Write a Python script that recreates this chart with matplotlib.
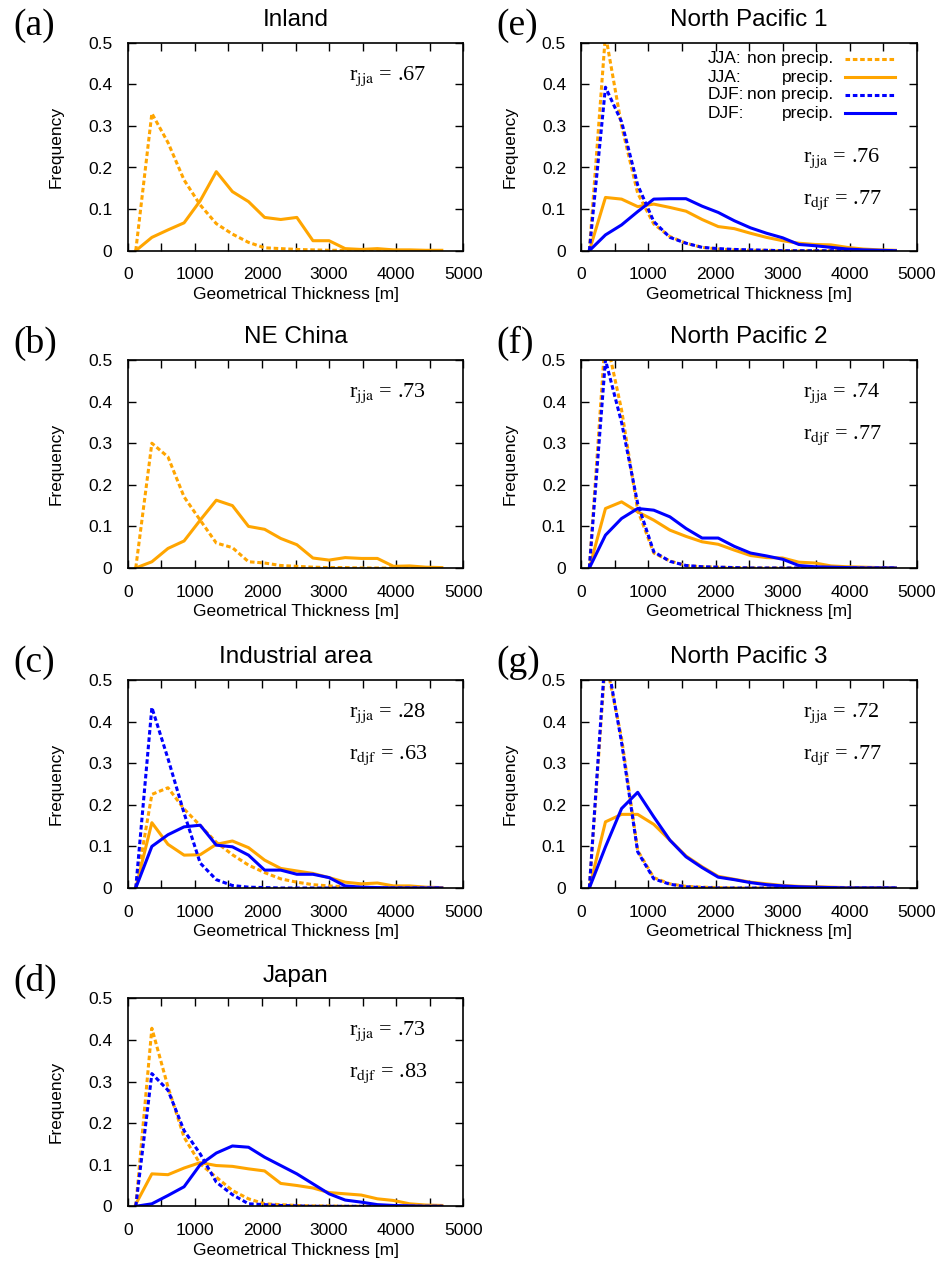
import matplotlib
matplotlib.use("Agg")
from matplotlib import pyplot as plt
from matplotlib.ticker import MultipleLocator

plt.rcParams['font.family'] = ['Liberation Sans', 'DejaVu Sans']
plt.rcParams['mathtext.fontset'] = 'stix'

# bin centres of geometrical thickness [m]
thickness = [120, 360, 600, 840, 1080, 1320, 1560, 1800, 2040, 2280,
             2520, 2760, 3000, 3240, 3480, 3720, 3960, 4200, 4440, 4680]

inland_jja_np = [0, 0.33, 0.26, 0.17, 0.11, 0.065, 0.04, 0.02, 0.007, 0.005,
                 0.003, 0.002, 0.001, 0.001, 0, 0, 0, 0, 0, 0]
inland_jja_p = [0, 0.032, 0.05, 0.067, 0.12, 0.19, 0.142, 0.118, 0.08, 0.075,
                0.08, 0.024, 0.024, 0.005, 0.003, 0.005, 0.002, 0.002, 0.001, 0.001]

china_jja_np = [0, 0.30, 0.267, 0.171, 0.115, 0.06, 0.049, 0.015, 0.012, 0.006,
                0.004, 0.002, 0.001, 0.001, 0, 0, 0, 0, 0, 0]
china_jja_p = [0, 0.015, 0.047, 0.065, 0.115, 0.163, 0.15, 0.10, 0.093, 0.071,
               0.056, 0.024, 0.019, 0.025, 0.023, 0.023, 0.004, 0.005, 0.002, 0.001]

indus_jja_np = [0, 0.225, 0.241, 0.19, 0.15, 0.11, 0.08, 0.055, 0.037, 0.022,
                0.014, 0.008, 0.005, 0.003, 0.002, 0.001, 0.001, 0, 0, 0]
indus_jja_p = [0, 0.157, 0.105, 0.079, 0.08, 0.105, 0.113, 0.097, 0.067, 0.047,
               0.041, 0.035, 0.025, 0.014, 0.01, 0.012, 0.005, 0.005, 0.002, 0.001]
indus_djf_np = [0, 0.434, 0.311, 0.18, 0.06, 0.02, 0.006, 0.002, 0.001, 0,
                0, 0, 0, 0, 0, 0, 0, 0, 0, 0]
indus_djf_p = [0, 0.10, 0.128, 0.147, 0.151, 0.103, 0.099, 0.079, 0.043, 0.043,
               0.033, 0.033, 0.025, 0.005, 0.002, 0.001, 0, 0, 0, 0]

japan_jja_np = [0, 0.428, 0.287, 0.166, 0.102, 0.07, 0.038, 0.018, 0.006, 0.004,
                0.002, 0.001, 0.001, 0, 0, 0, 0, 0, 0, 0]
japan_jja_p = [0.005, 0.078, 0.076, 0.092, 0.105, 0.098, 0.096, 0.09, 0.085, 0.055,
               0.05, 0.044, 0.033, 0.03, 0.027, 0.018, 0.014, 0.006, 0.003, 0.002]
japan_djf_np = [0, 0.319, 0.279, 0.182, 0.126, 0.058, 0.028, 0.006, 0.004, 0.002,
                0.001, 0, 0, 0, 0, 0, 0, 0, 0, 0]
japan_djf_p = [0, 0.006, 0.026, 0.047, 0.1, 0.128, 0.145, 0.142, 0.118, 0.098,
               0.078, 0.054, 0.03, 0.015, 0.01, 0.004, 0.002, 0.001, 0, 0]

np1_jja_np = [0, 0.52, 0.30, 0.138, 0.064, 0.034, 0.018, 0.008, 0.004, 0.002,
              0.001, 0.001, 0, 0, 0, 0, 0, 0, 0, 0]
np1_jja_p = [0, 0.128, 0.124, 0.106, 0.112, 0.104, 0.095, 0.075, 0.058, 0.053,
             0.042, 0.032, 0.024, 0.018, 0.015, 0.014, 0.008, 0.004, 0.002, 0.001]
np1_djf_np = [0, 0.393, 0.31, 0.158, 0.07, 0.032, 0.018, 0.008, 0.005, 0.003,
              0.002, 0.001, 0, 0, 0, 0, 0, 0, 0, 0]
np1_djf_p = [0, 0.038, 0.062, 0.094, 0.124, 0.125, 0.125, 0.107, 0.092, 0.072,
             0.055, 0.042, 0.031, 0.015, 0.012, 0.008, 0.004, 0.002, 0.001, 0]

np2_jja_np = [0, 0.56, 0.38, 0.139, 0.036, 0.017, 0.006, 0.003, 0.002, 0.001,
              0, 0, 0, 0, 0, 0, 0, 0, 0, 0]
np2_jja_p = [0, 0.143, 0.159, 0.135, 0.115, 0.091, 0.076, 0.063, 0.057, 0.043,
             0.03, 0.025, 0.024, 0.014, 0.012, 0.005, 0.003, 0.002, 0.001, 0]
np2_djf_np = [0, 0.50, 0.35, 0.155, 0.039, 0.016, 0.006, 0.003, 0.002, 0.001,
              0, 0, 0, 0, 0, 0, 0, 0, 0, 0]
np2_djf_p = [0, 0.079, 0.119, 0.143, 0.139, 0.123, 0.095, 0.072, 0.072, 0.052,
             0.036, 0.029, 0.021, 0.006, 0.003, 0.002, 0.001, 0, 0, 0]

np3_jja_np = [0, 0.55, 0.36, 0.09, 0.025, 0.01, 0.004, 0.002, 0.001, 0,
              0, 0, 0, 0, 0, 0, 0, 0, 0, 0]
np3_jja_p = [0, 0.159, 0.177, 0.177, 0.153, 0.115, 0.077, 0.051, 0.028, 0.021,
             0.014, 0.01, 0.006, 0.004, 0.003, 0.002, 0.001, 0, 0, 0]
np3_djf_np = [0, 0.57, 0.35, 0.087, 0.022, 0.009, 0.003, 0.001, 0, 0,
              0, 0, 0, 0, 0, 0, 0, 0, 0, 0]
np3_djf_p = [0, 0.099, 0.191, 0.23, 0.171, 0.115, 0.075, 0.049, 0.026, 0.02,
             0.013, 0.008, 0.005, 0.003, 0.002, 0.001, 0, 0, 0, 0]

titles = ['Inland', 'NE China', 'Industrial area', 'Japan',
          'North Pacific 1', 'North Pacific 2', 'North Pacific 3']
letters = ['(a)', '(b)', '(c)', '(d)', '(e)', '(f)', '(g)']
r_jja = ['.67', '.73', '.28', '.73', '.76', '.74', '.72']
r_djf = [None, None, '.63', '.83', '.77', '.77', '.77']

series = [
    (inland_jja_np, inland_jja_p, None, None),
    (china_jja_np, china_jja_p, None, None),
    (indus_jja_np, indus_jja_p, indus_djf_np, indus_djf_p),
    (japan_jja_np, japan_jja_p, japan_djf_np, japan_djf_p),
    (np1_jja_np, np1_jja_p, np1_djf_np, np1_djf_p),
    (np2_jja_np, np2_jja_p, np2_djf_np, np2_djf_p),
    (np3_jja_np, np3_jja_p, np3_djf_np, np3_djf_p),
]

ORANGE = '#ffa500'
BLUE = '#0000ff'
LW = 2.2
DASH = (0, (1.5, 0.9))

W, H = 942, 1263
fig = plt.figure(figsize=(W / 100, H / 100), dpi=100)

# panel placement in pixels: (left, top)
col_left = [127.7, 581.3]
row_top = [42.7, 360, 680, 998.3]
ax_w, ax_h = 335.6, 208
label_x = [13, 496]

for i in range(7):
    col, row = (0, i) if i < 4 else (1, i - 4)
    left, top = col_left[col], row_top[row]
    ax = fig.add_axes([left / W, 1 - (top + ax_h) / H, ax_w / W, ax_h / H])

    jja_np, jja_p, djf_np, djf_p = series[i]
    ax.plot(thickness, jja_np, color=ORANGE, lw=LW, linestyle=DASH)
    ax.plot(thickness, jja_p, color=ORANGE, lw=LW)
    if djf_np is not None:
        ax.plot(thickness, djf_np, color=BLUE, lw=LW, linestyle=DASH)
        ax.plot(thickness, djf_p, color=BLUE, lw=LW)

    ax.set_xlim(0, 5000)
    ax.set_ylim(0, 0.5)
    ax.xaxis.set_major_locator(MultipleLocator(1000))
    ax.xaxis.set_minor_locator(MultipleLocator(500))
    ax.set_yticks([0, 0.1, 0.2, 0.3, 0.4, 0.5])
    ax.set_yticklabels(['0', '0.1', '0.2', '0.3', '0.4', '0.5'])
    ax.tick_params(which='both', direction='in', top=True, right=True,
                   length=6, width=1, labelsize=12.5)
    ax.tick_params(axis='x', pad=12)
    ax.tick_params(axis='y', pad=11)
    for s in ax.spines.values():
        s.set_linewidth(1.2)

    ax.set_title(titles[i], fontsize=17.5, pad=12)
    ax.set_xlabel('Geometrical Thickness [m]', fontsize=12.5)
    ax.set_ylabel('Frequency', fontsize=12.5)
    ax.xaxis.set_label_coords(0.5, -0.175)
    ax.yaxis.set_label_coords(-0.19, 0.5)

    fig.text(label_x[col] / W, 1 - (top - 17) / H, letters[i],
             family='Liberation Serif', fontsize=27, va='center', ha='left')

    if i == 4:
        yj, yd = 0.444, 0.243
    else:
        yj, yd = 0.84, 0.64
    ax.text(0.66, yj, r'r$_{\rm jja}$ = ' + r_jja[i], transform=ax.transAxes,
            family='Liberation Serif', fontsize=16, va='center', ha='left')
    if r_djf[i] is not None:
        ax.text(0.66, yd, r'r$_{\rm djf}$ = ' + r_djf[i], transform=ax.transAxes,
                family='Liberation Serif', fontsize=16, va='center', ha='left')

    if i == 4:
        rows = [('JJA:', 'non precip.', ORANGE, DASH),
                ('JJA:', 'precip.', ORANGE, '-'),
                ('DJF:', 'non precip.', BLUE, DASH),
                ('DJF:', 'precip.', BLUE, '-')]
        ys = [0.922, 0.835, 0.749, 0.662]
        for (season, kind, c, ls), y in zip(rows, ys):
            ax.text(0.377, y, season, transform=ax.transAxes, fontsize=12.5,
                    va='center', ha='left')
            ax.text(0.752, y, kind, transform=ax.transAxes, fontsize=12.5,
                    va='center', ha='right')
            ax.plot([0.786, 0.934], [y, y], transform=ax.transAxes,
                    color=c, lw=LW, linestyle=ls)

fig.savefig('out.png', dpi=100)
